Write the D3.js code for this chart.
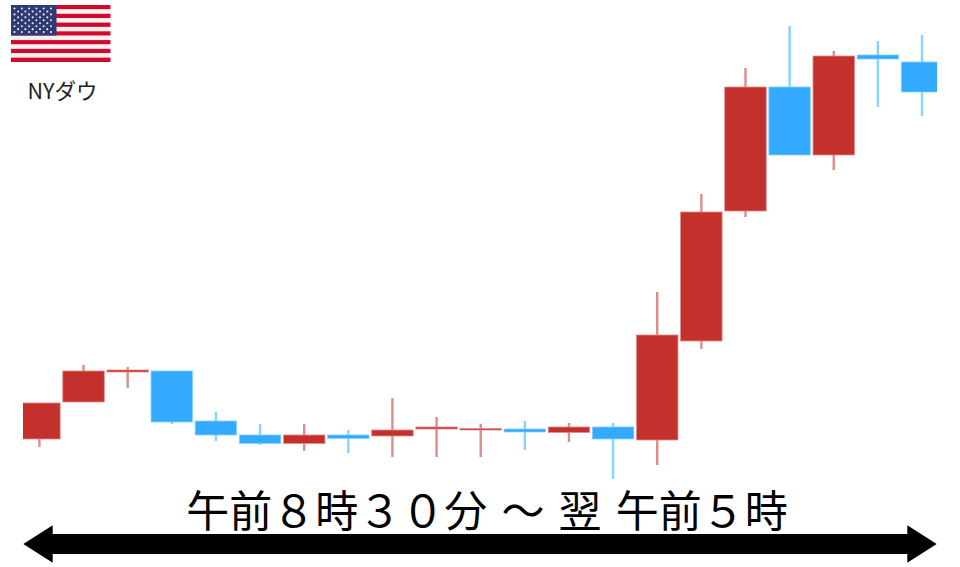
<!DOCTYPE html>
<html lang="ja"><head><meta charset="utf-8">
<style>html,body{margin:0;padding:0;background:#fff;overflow:hidden}svg{display:block}</style>
<script src="https://cdn.jsdelivr.net/npm/d3@7"></script></head><body>
<svg id="c" width="960" height="567"></svg>
<script>
// Values are read from the picture, in chart units (no axis is shown in the reference).
const opens  = [41,78,108,109,59,45,36.5,45,44,51,50,51,47.5,53,40,139,269,393,325,425,418];
const closes = [77,109,110,58,45,36.5,45,41.5,50,53,51.5,48,53,41,145,268,393,325,424,421,388];
const highs  = [77,115,113,109,68,56,56,50,82,63,56,59,57,57,188,286,412,454,429,439,445];
const lows   = [33,78,92,56,39,35,29,27,23,23,23,30,38,1,15,131,263,325,310,373,364];
const labelText = "午前８時３０分 ～ 翌 午前５時";
const flagLabel = "NYダウ";
const stripeIndex = d3.range(13);
const starRows = d3.range(9);

const RED="#c4302b", BLUE="#33a9ff", RED_W="#e08c89", BLUE_W="#85d3ff";
const svg=d3.select("#c");
const x=d3.scaleLinear().domain([0,20]).range([39.4,922]);
const y=d3.scaleLinear().domain([0,480]).range([480,0]);
const bw=41.5;
const candles=opens.map((o,i)=>({i,o,c:closes[i],h:highs[i],l:lows[i],up:closes[i]>=o}));

svg.append("defs").append("clipPath").attr("id","plot").append("rect")
  .attr("x",23).attr("y",0).attr("width",914).attr("height",567);
const g=svg.append("g").attr("clip-path","url(#plot)");
g.selectAll("line.w").data(candles).join("line").attr("class","w")
  .attr("x1",d=>x(d.i)).attr("x2",d=>x(d.i))
  .attr("y1",d=>y(d.h)).attr("y2",d=>y(d.l))
  .attr("stroke",d=>d.up?RED_W:BLUE_W).attr("stroke-width",2.4);
g.selectAll("rect.b").data(candles).join("rect").attr("class","b")
  .attr("x",d=>x(d.i)-bw/2).attr("width",bw)
  .attr("y",d=>y(Math.max(d.o,d.c))).attr("height",d=>Math.abs(d.o-d.c))
  .attr("fill",d=>d.up?RED:BLUE)
  .attr("stroke",d=>d.up?RED_W:BLUE_W).attr("stroke-width",.8);

// flag
const fx=d3.scaleLinear().domain([0,1]).range([11,110.5]);
const fy=d3.scaleBand().domain(stripeIndex).range([5,62]);
const f=svg.append("g");
f.selectAll("rect.s").data(stripeIndex).join("rect").attr("class","s")
  .attr("x",fx(0)).attr("width",fx(1)-fx(0)).attr("y",d=>fy(d)).attr("height",fy.bandwidth())
  .attr("fill",d=>d%2?"#f4f0f0":"#cf0a2c");
f.append("rect").attr("x",fx(0)).attr("y",5).attr("width",45.5).attr("height",30.5).attr("fill","#2f3a72");
starRows.forEach(r=>{
  const n=r%2?5:6;
  d3.range(n).forEach(k=>{
    f.append("circle").attr("cx",14.5+(r%2?3.6:0)+k*7.3).attr("cy",8.5+r*2.95).attr("r",1.05).attr("fill","#e6e8f2");
  });
});
svg.append("text").attr("x",62.5).attr("y",98.5).attr("text-anchor","middle")
  .attr("font-family","'Noto Sans CJK JP','Noto Sans',sans-serif").attr("font-size",21.5).attr("fill","#222").text(flagLabel);

svg.append("text").attr("x",487).attr("y",527).attr("text-anchor","middle")
  .attr("font-family","'Noto Sans CJK JP','Noto Sans',sans-serif").attr("font-size",43).attr("font-weight",400)
  .attr("word-spacing",4.5).attr("fill","#000").text(labelText);

// double arrow
svg.append("path").attr("fill","#000").attr("d",d3.line()([
 [23.3,544],[52.7,525.3],[52.7,534],[907.3,534],[907.3,525.3],[936.7,544],[907.3,562.7],[907.3,554],[52.7,554],[52.7,562.7]
])+"Z");
</script></body></html>
